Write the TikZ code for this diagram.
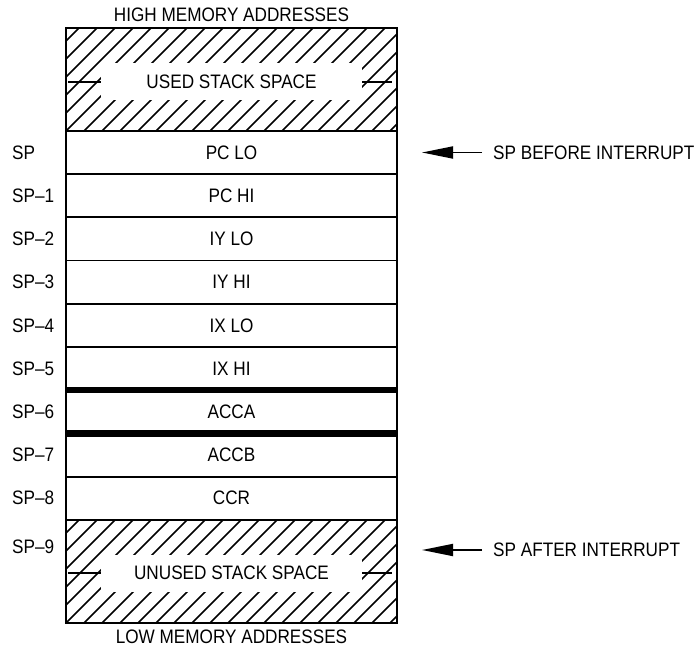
\documentclass[tikz,border=0pt]{standalone}
\usepackage{fontspec}
\setmainfont{Liberation Sans}[FakeStretch=0.88]
\usetikzlibrary{arrows.meta,positioning}

\begin{document}
\begin{tikzpicture}[
  x=1pt, y=-1pt,
  node distance=0pt,
  every node/.style={font=\fontsize{19.5}{23}\selectfont},
  cell/.style={rectangle, draw=black, line width=1.8pt, outer sep=0pt,
               inner sep=0pt, minimum width=331pt, minimum height=43.2pt},
  region/.style={cell, minimum height=103pt},
  gap/.style={rectangle, fill=white, inner sep=0pt,
              minimum width=261pt, minimum height=37pt},
  addr/.style={anchor=west, inner sep=0pt},
  tag/.style={inner sep=0pt},
  hatch/.style={line width=1.7pt},
  tie/.style={line width=1.8pt},
  sep/.style={line width=6.5pt},
  sparr/.style={-{Triangle[length=31pt,width=12pt]}, line width=1.8pt}
]
\useasboundingbox (0,0) rectangle (699,652);

% stack cells
\node[region]                 (used)   at (231.5,79.5) {};
\node[cell, below=of used]    (pclo)   {PC LO};
\node[cell, below=of pclo]    (pchi)   {PC HI};
\node[cell, below=of pchi]    (iylo)   {IY LO};
\node[cell, below=of iylo]    (iyhi)   {IY HI};
\node[cell, below=of iyhi]    (ixlo)   {IX LO};
\node[cell, below=of ixlo]    (ixhi)   {IX HI};
\node[cell, below=of ixhi]    (acca)   {ACCA};
\node[cell, below=of acca]    (accb)   {ACCB};
\node[cell, below=of accb]    (ccr)    {CCR};
\node[region, below=of ccr]   (unused) {};

% hatching
\begin{scope}
  \clip (used.north west) rectangle (used.south east);
  \foreach \x in {-42,-24,...,400} \draw[hatch] (\x,131) -- ++(110,-110);
\end{scope}
\begin{scope}
  \clip (unused.north west) rectangle (unused.south east);
  \foreach \x in {-42,-24,...,400} \draw[hatch] (\x,623) -- ++(110,-110);
\end{scope}
\draw[line width=1.8pt] (used.north west) rectangle (used.south east);
\draw[line width=1.8pt] (unused.north west) rectangle (unused.south east);

\node[gap] (usedtxt)   at (231.5,82)  {USED STACK SPACE};
\node[gap] (unusedtxt) at (231.5,573) {UNUSED STACK SPACE};
\draw[tie] ([xshift=2pt]used.west |- usedtxt) -- (usedtxt.west);
\draw[tie] (usedtxt.east) -- ([xshift=-5pt]used.east |- usedtxt);
\draw[tie] ([xshift=2pt]unused.west |- unusedtxt) -- (unusedtxt.west);
\draw[tie] (unusedtxt.east) -- ([xshift=-5pt]unused.east |- unusedtxt);

% heavy separators
\draw[sep] (ixhi.south west) -- (ixhi.south east);
\draw[sep] (acca.south west) -- (acca.south east);

\node[tag, above=6pt of used]   (high) {HIGH MEMORY ADDRESSES};
\node[tag, below=7pt of unused] (low)  {LOW MEMORY ADDRESSES};

% address labels
\coordinate (lcol) at (12,0);
\node[addr] (lsp)  at (lcol |- pclo) {SP};
\node[addr] (lsp1) at (lcol |- pchi) {SP–1};
\node[addr] (lsp2) at (lcol |- iylo) {SP–2};
\node[addr] (lsp3) at (lcol |- iyhi) {SP–3};
\node[addr] (lsp4) at (lcol |- ixlo) {SP–4};
\node[addr] (lsp5) at (lcol |- ixhi) {SP–5};
\node[addr] (lsp6) at (lcol |- acca) {SP–6};
\node[addr] (lsp7) at (lcol |- accb) {SP–7};
\node[addr] (lsp8) at (lcol |- ccr)  {SP–8};
\node[addr] (lsp9) at (12,547)       {SP–9};

% stack pointer marks
\node[addr] (before) at (493,152.5) {SP BEFORE INTERRUPT};
\node[addr] (after)  at (493,550)   {SP AFTER INTERRUPT};
\coordinate (tipb) at (422,152.5);
\coordinate (tipa) at (422,550);
\draw[sparr] ([xshift=-11pt]before.west) -- (tipb);
\draw[sparr] ([xshift=-11pt]after.west)  -- (tipa);
\end{tikzpicture}
\end{document}
